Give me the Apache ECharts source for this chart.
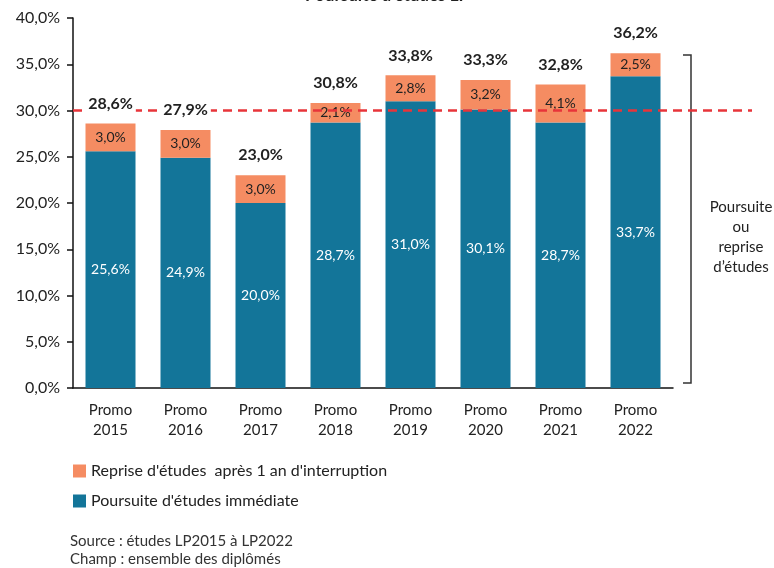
<!DOCTYPE html>
<html>
<head>
<meta charset="utf-8">
<script src="https://cdn.jsdelivr.net/npm/echarts@6/dist/echarts.min.js"></script>
<style>
html,body{margin:0;padding:0;background:#fff;}
#chart{width:774px;height:568px;}
</style>
</head>
<body>
<div id="chart"></div>
<script>
const categories = ['Promo\n2015','Promo\n2016','Promo\n2017','Promo\n2018','Promo\n2019','Promo\n2020','Promo\n2021','Promo\n2022'];
const poursuiteImmediate = [25.6, 24.9, 20.0, 28.7, 31.0, 30.1, 28.7, 33.7];
const repriseEtudes = [3.0, 3.0, 3.0, 2.1, 2.8, 3.2, 4.1, 2.5];
const totals = [28.6, 27.9, 23.0, 30.8, 33.8, 33.3, 32.8, 36.2];
const referenceLine = 30;
const yTicks = [0, 5, 10, 15, 20, 25, 30, 35, 40];

const FONT = 'Lato, "Open Sans", sans-serif';
const BLUE = '#137599';
const ORANGE = '#F58C62';
const fmt = v => v.toFixed(1).replace('.', ',') + '%';

const chart = echarts.init(document.getElementById('chart'));
chart.setOption({
  animation: false,
  textStyle: { fontFamily: FONT },
  grid: [
    { left: 73, right: 101, top: 18, bottom: 180 },
    { left: 73, right: 22, top: 18, bottom: 180 }
  ],
  xAxis: [
    {
      type: 'category', data: categories, gridIndex: 0,
      axisLine: { lineStyle: { color: '#111', width: 1.5 } },
      axisTick: { show: false },
      axisLabel: { color: '#222', fontSize: 15, lineHeight: 20, margin: 12, fontFamily: FONT }
    },
    { type: 'value', gridIndex: 1, min: 0, max: 1, show: false }
  ],
  yAxis: [
    {
      type: 'value', gridIndex: 0, min: yTicks[0], max: yTicks[yTicks.length - 1], interval: 5,
      axisLine: { show: true, lineStyle: { color: '#111', width: 1.5 } },
      axisTick: { show: true, length: 6, lineStyle: { color: '#111', width: 1.5 } },
      splitLine: { show: false },
      axisLabel: { color: '#222', fontSize: 16, margin: 13, formatter: fmt, fontFamily: FONT }
    },
    { type: 'value', gridIndex: 1, min: yTicks[0], max: yTicks[yTicks.length - 1], show: false }
  ],
  legend: {
    orient: 'vertical', left: 68, top: 458,
    itemWidth: 13, itemHeight: 13, itemGap: 14,
    icon: 'rect',
    textStyle: { fontSize: 16, color: '#222', fontFamily: FONT },
    data: ["Reprise d'études  après 1 an d'interruption", "Poursuite d'études immédiate"]
  },
  series: [
    {
      name: "Poursuite d'études immédiate", type: 'bar', stack: 'total',
      xAxisIndex: 0, yAxisIndex: 0, z: 2,
      barWidth: 50, data: poursuiteImmediate,
      itemStyle: { color: BLUE },
      label: { show: true, position: 'inside', color: '#fff', fontSize: 14, formatter: p => fmt(p.value) }
    },
    {
      name: "Reprise d'études  après 1 an d'interruption", type: 'bar', stack: 'total',
      xAxisIndex: 0, yAxisIndex: 0, z: 2,
      barWidth: 50, data: repriseEtudes,
      itemStyle: { color: ORANGE },
      label: { show: true, position: 'inside', color: '#222', fontSize: 14, formatter: p => fmt(p.value) }
    },
    {
      name: 'total', type: 'bar', stack: 'total',
      xAxisIndex: 0, yAxisIndex: 0, z: 10,
      barWidth: 50, data: totals.map(() => 0),
      itemStyle: { color: 'transparent' },
      label: { show: true, position: 'top', distance: 10, color: '#222', fontSize: 16, fontWeight: 'bold',
               backgroundColor: '#fff', padding: [2, 3],
               formatter: p => fmt(totals[p.dataIndex]) },
      tooltip: { show: false }
    },
    {
      name: 'seuil', type: 'line', xAxisIndex: 1, yAxisIndex: 1,
      data: [[0, referenceLine], [1, referenceLine]],
      symbol: 'none', silent: true, z: 5,
      lineStyle: { color: '#E8343A', width: 2.5, type: [9, 6] }
    }
  ],
  graphic: [
    {
      type: 'text', left: 'center', top: -13,
      style: { text: "Poursuite d'études LP", fontSize: 17, fontWeight: 'bold', fill: '#222', fontFamily: FONT }
    },
    {
      type: 'polyline',
      shape: { points: [[683, 55], [691, 55], [691, 383], [683, 383]] },
      style: { stroke: '#333', lineWidth: 1.5, fill: null }
    },
    {
      type: 'text', x: 741, y: 197,
      style: { text: "Poursuite\nou\nreprise\nd’études", fontSize: 15, lineHeight: 20, fill: '#222', align: 'center', fontFamily: FONT }
    },
    {
      type: 'text', x: 70, y: 532,
      style: { text: "Source : études LP2015 à LP2022\nChamp : ensemble des diplômés", fontSize: 15, lineHeight: 18, fill: '#333', fontFamily: FONT }
    }
  ]
});
</script>
</body>
</html>
